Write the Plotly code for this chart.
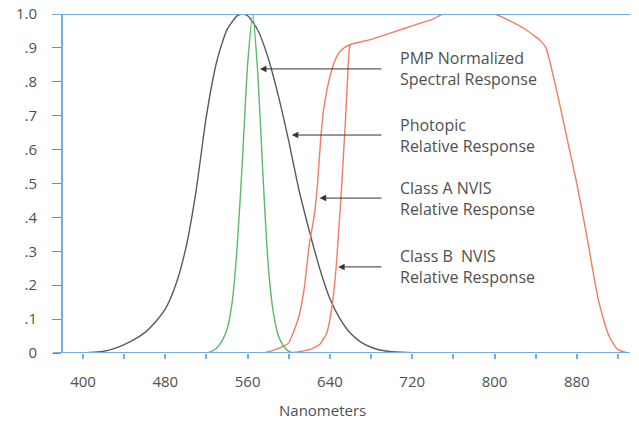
import plotly.graph_objects as go

# ---------------- data ----------------
photopic_nm = [400, 410, 420, 430, 440, 450, 460, 470, 480, 490, 500, 510, 520, 530, 540, 550, 555,
               560, 570, 580, 590, 600, 610, 620, 630, 640, 650, 660, 670, 680, 690, 700, 710, 720, 730]
photopic_val = [0.0, 0.002, 0.005, 0.013, 0.025, 0.04, 0.06, 0.09, 0.13, 0.2, 0.31, 0.48, 0.7, 0.86,
                0.954, 0.995, 1.0, 0.995, 0.952, 0.87, 0.757, 0.625, 0.48, 0.36, 0.25, 0.16, 0.1,
                0.058, 0.032, 0.017, 0.008, 0.004, 0.002, 0.001, 0.0]

pmp_nm = [520, 525, 530, 535, 540, 545, 550, 555, 560, 565, 570, 575, 580, 585, 590, 595, 600, 605]
pmp_val = [0.0, 0.005, 0.015, 0.035, 0.07, 0.15, 0.32, 0.57, 0.85, 1.0, 0.82, 0.52, 0.26, 0.12,
           0.05, 0.02, 0.005, 0.0]

class_a_nm = [575, 585, 595, 600, 605, 610, 615, 620, 625, 628, 631, 634, 640, 646, 651, 660, 680,
              700, 720, 740, 750, 760, 780, 800, 815, 830, 845, 850, 860, 870, 880, 890, 900, 905,
              910, 915, 920, 930]
class_a_val = [0.0, 0.008, 0.02, 0.03, 0.065, 0.11, 0.19, 0.32, 0.41, 0.5, 0.63, 0.72, 0.815, 0.87,
               0.894, 0.91, 0.925, 0.945, 0.965, 0.985, 1.0, 1.0, 1.0, 1.0, 0.98, 0.955, 0.92, 0.9,
               0.78, 0.64, 0.5, 0.34, 0.17, 0.11, 0.06, 0.03, 0.01, 0.0]

class_b_nm = [600, 610, 620, 630, 637, 642, 646, 649, 651, 655, 659, 660]
class_b_val = [0.0, 0.004, 0.01, 0.025, 0.06, 0.136, 0.25, 0.38, 0.47, 0.68, 0.9, 0.91]

label_texts = ["PMP Normalized<br>Spectral Response", "Photopic<br>Relative Response",
               "Class A NVIS<br>Relative Response", "Class B  NVIS<br>Relative Response"]
arrow_tip_nm = [572, 603, 630, 648]
arrow_y = [0.838, 0.643, 0.457, 0.254]

x_tickvals = list(range(400, 921, 40))
x_ticktext = [str(v) if (v - 400) % 80 == 0 else "" for v in x_tickvals]
y_tickvals = [i / 10 for i in range(11)]
y_ticktext = ["0", ".1", ".2", ".3", ".4", ".5", ".6", ".7", ".8", ".9", "1.0"]

# ---------------- figure ----------------
BLUE = "#74aee0"
TEXT = "#505050"
FONT = "Open Sans"

fig = go.Figure()
fig.add_trace(go.Scatter(x=photopic_nm, y=photopic_val, mode="lines", line=dict(color="#5a5a5a", width=1.4, shape="spline", smoothing=0.6)))
fig.add_trace(go.Scatter(x=pmp_nm, y=pmp_val, mode="lines", line=dict(color="#5cb86e", width=1.4, shape="spline", smoothing=0.6)))
fig.add_trace(go.Scatter(x=class_a_nm, y=class_a_val, mode="lines", line=dict(color="#f27c62", width=1.4, shape="spline", smoothing=0.5)))
fig.add_trace(go.Scatter(x=class_b_nm, y=class_b_val, mode="lines", line=dict(color="#f27c62", width=1.4, shape="spline", smoothing=0.5)))

x_range = [380.56, 931.7]
tail_nm = 691.6
text_nm = 706.0

for txt, tip, yv in zip(label_texts, arrow_tip_nm, arrow_y):
    fig.add_annotation(x=tip, y=yv, ax=tail_nm, ay=yv, axref="x", ayref="y", xref="x", yref="y",
                       text="", showarrow=True, arrowhead=2, arrowsize=1.3, arrowwidth=1,
                       arrowcolor="#333333")
    fig.add_annotation(x=text_nm, y=yv, xref="x", yref="y", text=txt, showarrow=False,
                       xanchor="left", yanchor="middle", align="left",
                       font=dict(family=FONT, size=16, color=TEXT))

fig.add_annotation(x=0.458, y=-57 / 339, xref="paper", yref="paper", text="Nanometers",
                   showarrow=False, xanchor="center", yanchor="middle",
                   font=dict(family=FONT, size=15, color=TEXT))

# top and bottom blue lines extending left past the axis
for yv in [0, 1]:
    fig.add_shape(type="line", xref="paper", yref="y", x0=-10 / 567, x1=1, y0=yv, y1=yv,
                  line=dict(color=BLUE, width=2))

fig.update_layout(
    width=631, height=414,
    margin=dict(l=55, r=9, t=6, b=69, autoexpand=False),
    paper_bgcolor="white", plot_bgcolor="white",
    showlegend=False,
    xaxis=dict(range=x_range, showgrid=False, zeroline=False, showline=False, automargin=False,
               ticks="outside", ticklen=5, tickwidth=1.5, tickcolor=BLUE,
               tickvals=x_tickvals, ticktext=x_ticktext, ticklabelstandoff=10,
               tickfont=dict(family=FONT, size=15, color=TEXT)),
    yaxis=dict(range=[0, 1], showgrid=False, zeroline=False, showline=True, linecolor=BLUE,
               automargin=False, ticklabeloverflow="allow",
               linewidth=2, ticks="outside", ticklen=9, tickwidth=1, tickcolor="#8a8a8a",
               tickvals=y_tickvals, ticktext=y_ticktext, ticklabelstandoff=12,
               tickfont=dict(family=FONT, size=15, color=TEXT)),
)

fig.write_html("out.html")
